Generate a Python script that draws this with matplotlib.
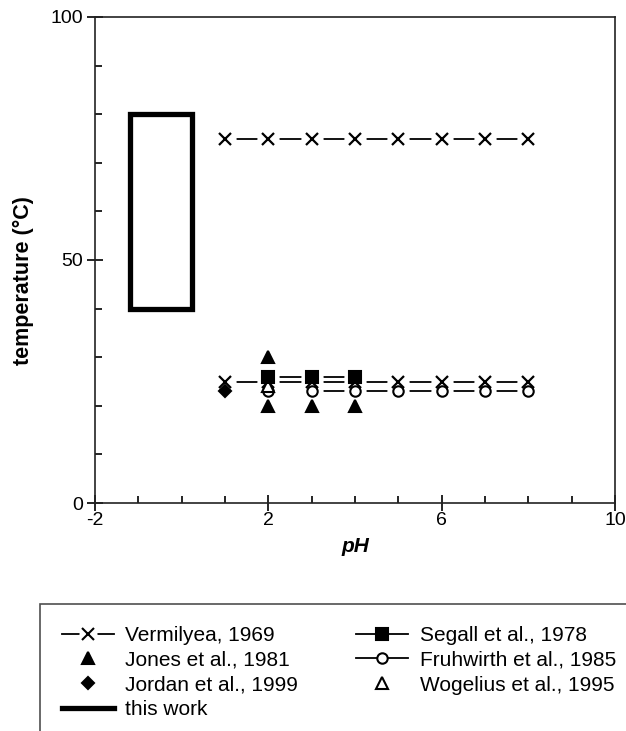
import matplotlib
matplotlib.use("Agg")
import matplotlib.pyplot as plt
from matplotlib.lines import Line2D
from matplotlib.patches import Rectangle
from matplotlib.legend_handler import HandlerTuple
from matplotlib.ticker import MultipleLocator, FixedLocator

plt.rcParams['font.family'] = ['Liberation Sans', 'DejaVu Sans']
plt.rcParams['axes.unicode_minus'] = False

# Literature data: pH and temperature (°C)
verm_ph = [1, 2, 3, 4, 5, 6, 7, 8]
verm_t_high = [75, 75, 75, 75, 75, 75, 75, 75]
verm_t_low = [25, 25, 25, 25, 25, 25, 25, 25]

segall_ph = [2, 3, 4]
segall_t = [26, 26, 26]

jones_ph = [2, 2, 3, 4]
jones_t = [30, 20, 20, 20]

fruh_ph = [2, 3, 4, 5, 6, 7, 8]
fruh_t = [23, 23, 23, 23, 23, 23, 23]

jordan_ph = [1]
jordan_t = [23]

wogel_ph = [2]
wogel_t = [24]

# Range covered by this work
this_ph = [-1.2, 0.25]
this_t = [40, 80]

fig = plt.figure(figsize=(6.26, 7.31), dpi=100)
ax = fig.add_axes([95 / 626, 1 - 503 / 731, 520 / 626, 486 / 731])

LW = 1.3
MASK = 16


def connect(x, y):
    ax.plot(x, y, color='black', lw=LW, zorder=2, solid_capstyle='butt')


def markers(x, y, marker, ms, mfc, zmark=5):
    # white halo keeps the connecting lines off the symbols
    ax.plot(x, y, linestyle='none', marker='o', ms=MASK, mfc='white',
            mec='none', zorder=3)
    ax.plot(x, y, linestyle='none', marker=marker, ms=ms, mfc=mfc,
            mec='black', mew=1.6 if marker == 'x' else 1.5, zorder=zmark)


connect(verm_ph, verm_t_high)
markers(verm_ph, verm_t_high, 'x', 9, 'black')

connect(fruh_ph[1:], fruh_t[1:])
markers(fruh_ph, fruh_t, 'o', 7.5, 'white', zmark=5)

connect(verm_ph, verm_t_low)
markers(verm_ph, verm_t_low, 'x', 9, 'black', zmark=6)

markers(jordan_ph, jordan_t, 'D', 6.5, 'black', zmark=5)
markers(jones_ph, jones_t, '^', 8.5, 'black', zmark=5)
markers(wogel_ph, wogel_t, '^', 8, 'white', zmark=7)

connect(segall_ph, segall_t)
markers(segall_ph, segall_t, 's', 8, 'black', zmark=8)

ax.add_patch(Rectangle((this_ph[0], this_t[0]), this_ph[1] - this_ph[0],
                       this_t[1] - this_t[0], fill=False, lw=3.8,
                       edgecolor='black', joinstyle='miter', zorder=4))

ax.set_xlim(-2, 10)
ax.set_ylim(0, 100)
ax.xaxis.set_major_locator(FixedLocator([-2, 2, 6, 10]))
ax.xaxis.set_minor_locator(MultipleLocator(1))
ax.yaxis.set_major_locator(FixedLocator([0, 50, 100]))
ax.yaxis.set_minor_locator(MultipleLocator(10))
ax.tick_params(which='major', direction='inout', length=11, width=1.2,
               labelsize=14, color='black', pad=3)
ax.tick_params(which='minor', direction='in', length=5, width=1.2)
ax.tick_params(axis='x', which='major', pad=1)
for s in ax.spines.values():
    s.set_linewidth(1.2)
    s.set_color('#222222')

ax.set_xlabel('pH', fontsize=15, fontweight='bold', fontstyle='italic', labelpad=6)
ax.set_ylabel('temperature (°C)', fontsize=15.5, fontweight='bold')
ax.yaxis.set_label_coords(-0.117, 0.457)

# Legend handles
def line_h():
    return Line2D([], [], color='black', lw=LW)


def mask_h():
    return Line2D([], [], linestyle='none', marker='o', ms=MASK - 3,
                  mfc='white', mec='none')


def mark_h(marker, ms, mfc):
    return Line2D([], [], linestyle='none', marker=marker, ms=ms, mfc=mfc,
                  mec='black', mew=1.5)


handles = [
    (line_h(), mask_h(), mark_h('x', 9, 'black')),
    mark_h('^', 8.5, 'black'),
    mark_h('D', 6.5, 'black'),
    Line2D([], [], color='black', lw=3.8),
    (line_h(), mark_h('s', 8, 'black')),
    (line_h(), mark_h('o', 7.5, 'white')),
    mark_h('^', 8, 'white'),
]
labels = ['Vermilyea, 1969', 'Jones et al., 1981', 'Jordan et al., 1999',
          'this work', 'Segall et al., 1978', 'Fruhwirth et al., 1985',
          'Wogelius et al., 1995']

leg = fig.legend(handles, labels, ncol=2, loc='upper left',
                 bbox_to_anchor=(40 / 626, 1 - 604 / 731, 598 / 626, 0.0),
                 mode='expand', fontsize=15, frameon=True, fancybox=False,
                 edgecolor='#222222', handlelength=2.5, handletextpad=0.55,
                 labelspacing=0.28, borderpad=1.05, borderaxespad=0,
                 columnspacing=1.0,
                 handler_map={tuple: HandlerTuple(ndivide=1, pad=0)})
leg.get_frame().set_linewidth(1.2)

fig.savefig('out.png', dpi=100)
